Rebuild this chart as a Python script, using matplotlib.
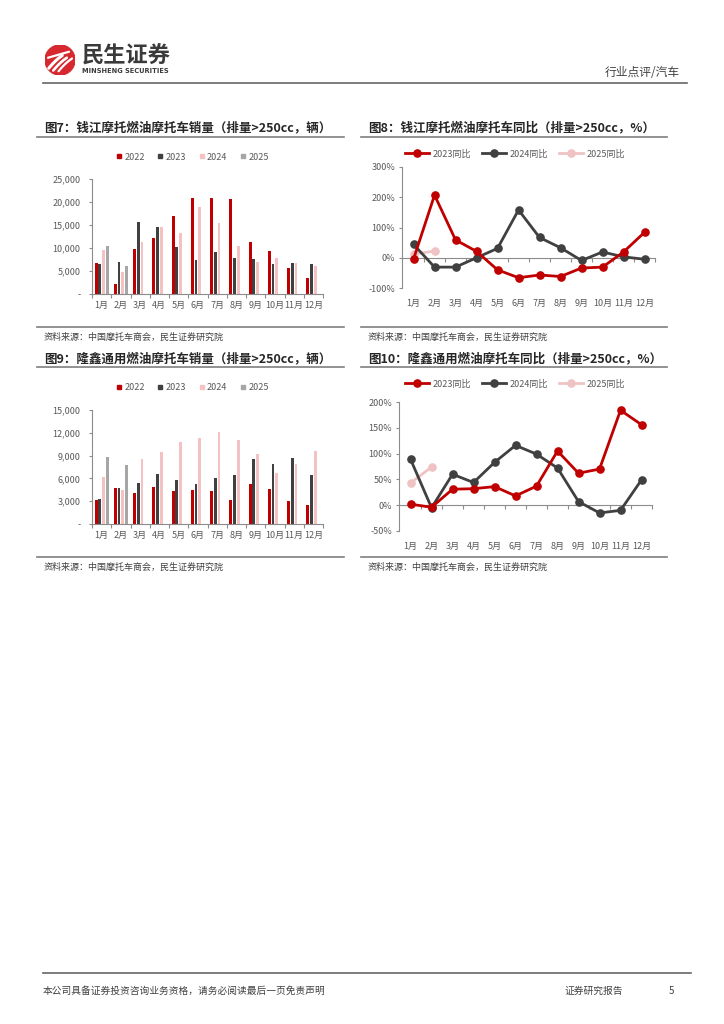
import matplotlib
matplotlib.use("Agg")
import matplotlib.pyplot as plt
from matplotlib.lines import Line2D
from matplotlib.patches import Circle
from matplotlib.ticker import FuncFormatter, FixedLocator

plt.rcParams['font.family'] = ['Noto Sans CJK SC', 'DejaVu Sans']
plt.rcParams['axes.unicode_minus'] = False

W, H = 724, 1024

months = ['1月', '2月', '3月', '4月', '5月', '6月', '7月', '8月', '9月', '10月', '11月', '12月']

# 图7 钱江摩托 销量 (辆)
qj_2022 = [6700, 2250, 9800, 12100, 17000, 20900, 20900, 20650, 11300, 9350, 5600, 3500]
qj_2023 = [6500, 7000, 15600, 14600, 10200, 7400, 9200, 7900, 7700, 6600, 6650, 6500]
qj_2024 = [9500, 4850, 11200, 14600, 13300, 19000, 15500, 10500, 7000, 7900, 6750, 6150]
qj_2025 = [10500, 6100]

# 图8 钱江摩托 同比 (%)
qj_yoy_2023 = [-4, 207, 59, 21, -40, -66, -57, -62, -34, -31, 19, 84]
qj_yoy_2024 = [44, -31, -31, 0, 31, 158, 67, 33, -9, 19, 3, -5]
qj_yoy_2025 = [12, 22]

# 图9 隆鑫通用 销量 (辆)
lx_2022 = [3150, 4800, 4100, 4900, 4300, 4450, 4400, 3100, 5300, 4600, 3050, 2550]
lx_2023 = [3250, 4700, 5400, 6550, 5850, 5300, 6050, 6400, 8600, 7900, 8650, 6450]
lx_2024 = [6200, 4450, 8600, 9450, 10800, 11350, 12100, 11100, 9250, 6750, 7850, 9650]
lx_2025 = [8800, 7750]

# 图10 隆鑫通用 同比 (%)
lx_yoy_2023 = [2, -4, 31, 32, 36, 18, 37, 105, 62, 70, 184, 156]
lx_yoy_2024 = [89, -5, 60, 44, 83, 116, 99, 72, 7, -15, -10, 49]
lx_yoy_2025 = [43, 74]

RED = '#C00000'
DARK = '#404040'
PINK = '#F4C2C2'
GRAY = '#A6A6A6'
LPINK = '#EFC3C3'
TXT = '#595959'
LINE = '#7F7F7F'

fig = plt.figure(figsize=(W / 100, H / 100), dpi=100)


def rect(x0, y0, x1, y1):
    return [x0 / W, 1 - y1 / H, (x1 - x0) / W, (y1 - y0) / H]


def fx(x):
    return x / W


def fy(y):
    return 1 - y / H


def hline(x0, x1, y, color=LINE, lw=1.2):
    fig.add_artist(Line2D([fx(x0), fx(x1)], [fy(y), fy(y)], color=color, lw=lw))


# header
logo = fig.add_axes(rect(45, 45, 75, 75))
logo.set_xlim(-1, 1)
logo.set_ylim(-1, 1)
logo.set_aspect('equal')
logo.axis('off')
logo.add_patch(Circle((0, 0), 1, color='#D7282F'))
for k, (x0, y0) in enumerate([(-0.75, -0.55), (-0.45, -0.7), (-0.1, -0.75)]):
    xs = [x0 + t * 0.9 for t in [0, 0.25, 0.5, 0.75, 1]]
    ys = [y0 + 1.1 * t - 0.25 * t * t for t in [0, 0.25, 0.5, 0.75, 1]]
    logo.plot(xs, ys, color='white', lw=2.2 - k * 0.3, solid_capstyle='round')
logo.plot([-0.8, 0.6], [0.15, 0.55], color='white', lw=1.6, solid_capstyle='round')

fig.text(fx(82), fy(56), '民生证券', fontsize=16, fontweight='bold', color='#3A3A3A',
         ha='left', va='center')
fig.text(fx(82), fy(71), 'MINSHENG SECURITIES', fontsize=4.8, fontweight='bold',
         color='#3A3A3A', ha='left', va='center', family='DejaVu Sans')
fig.text(fx(680), fy(72), '行业点评/汽车', fontsize=8.5, color=DARK, ha='right', va='center')
hline(43, 687, 83, color='#666666', lw=1.2)

# footer
hline(43, 691, 973, color='#666666', lw=1.2)
fig.text(fx(43), fy(991), '本公司具备证券投资咨询业务资格，请务必阅读最后一页免责声明',
         fontsize=7, color=DARK, ha='left', va='center')
fig.text(fx(594), fy(991), '证券研究报告', fontsize=7, color=DARK, ha='center', va='center')
fig.text(fx(671), fy(991), '5', fontsize=7, color=DARK, ha='center', va='center')


def frame(x0, x1, ytitle, yline, ysrc, title):
    fig.text(fx(x0 + 7), fy(ytitle), title, fontsize=9, fontweight='bold', color='#262626',
             ha='left', va='center')
    hline(x0, x1, yline)
    hline(x0, x1, ysrc)
    fig.text(fx(x0 + 7), fy(ysrc + 10), '资料来源：中国摩托车商会，民生证券研究院',
             fontsize=6.5, color=DARK, ha='left', va='center')


def style_axes(ax):
    for s in ['top', 'right']:
        ax.spines[s].set_visible(False)
    for s in ['left', 'bottom']:
        ax.spines[s].set_color('#8C8C8C')
        ax.spines[s].set_linewidth(0.8)
    ax.tick_params(colors='#8C8C8C', labelcolor=TXT, labelsize=6.5, width=0.8)


def bar_chart(pos, ymax, step, series, legend_xy):
    ax = fig.add_axes(rect(*pos))
    style_axes(ax)
    colors = [RED, DARK, PINK, GRAY]
    bw = 0.15
    offs = [-1.5, -0.5, 0.5, 1.5]
    for vals, c, o in zip(series, colors, offs):
        xs = [i + o * 0.19 for i in range(len(vals))]
        ax.bar(xs, vals, width=bw, color=c, linewidth=0)
    ax.set_xlim(-0.5, 11.5)
    ax.set_ylim(0, ymax)
    ax.set_yticks(range(0, ymax + 1, step))
    ax.yaxis.set_major_formatter(FuncFormatter(lambda v, p: '-' if v == 0 else f'{int(v):,}'))
    ax.tick_params(axis='y', length=2.4, pad=6)
    ax.set_xticks(range(12))
    ax.set_xticklabels(months)
    ax.xaxis.set_minor_locator(FixedLocator([i - 0.5 for i in range(13)]))
    ax.tick_params(axis='x', which='major', length=0, pad=5)
    ax.tick_params(axis='x', which='minor', length=3, width=0.8, color='#8C8C8C')
    handles = [Line2D([], [], marker='s', ls='none', color=c, markersize=3.5) for c in colors]
    fig.legend(handles, ['2022', '2023', '2024', '2025'], loc='center',
               bbox_to_anchor=(fx(legend_xy[0]), fy(legend_xy[1])), ncol=4, frameon=False,
               fontsize=6.5, labelcolor=TXT, handletextpad=0.2, columnspacing=1.3,
               handlelength=0.8)
    return ax


def line_chart(pos, ylo, yhi, step, series, legend_xy):
    ax = fig.add_axes(rect(*pos))
    style_axes(ax)
    colors = [RED, DARK, LPINK]
    names = ['2023同比', '2024同比', '2025同比']
    order = [2, 1, 0]
    for k in order:
        vals = series[k]
        ax.plot(range(len(vals)), vals, color=colors[k], lw=2.0, marker='o', markersize=5.2,
                zorder=3 + (2 - k))
    ax.set_xlim(-0.55, 11.5)
    ax.set_ylim(ylo, yhi)
    ax.set_yticks(range(ylo, yhi + 1, step))
    ax.yaxis.set_major_formatter(FuncFormatter(lambda v, p: f'{int(v)}%'))
    ax.tick_params(axis='y', length=2.4, pad=2.5)
    ax.spines['bottom'].set_position(('data', 0))
    ax.set_xticks([])
    ax.xaxis.set_minor_locator(FixedLocator([i - 0.5 for i in range(1, 13)]))
    ax.tick_params(axis='x', which='minor', length=3, width=0.8, color='#8C8C8C')
    for i, m in enumerate(months):
        ax.annotate(m, xy=(i, 0), xycoords=('data', 'axes fraction'), xytext=(0, -11),
                    textcoords='offset points', ha='center', va='center', fontsize=6.5,
                    color=TXT)
    handles = [Line2D([], [], color=c, lw=2.0, marker='o', markersize=5.2) for c in colors]
    fig.legend(handles, names, loc='center',
               bbox_to_anchor=(fx(legend_xy[0]), fy(legend_xy[1])), ncol=3, frameon=False,
               fontsize=6.5, labelcolor=TXT, handletextpad=0.4, columnspacing=1.2,
               handlelength=2.7)
    return ax


# 图7
frame(37, 344, 128, 137, 327, '图7：钱江摩托燃油摩托车销量（排量>250cc，辆）')
bar_chart((92, 179, 323, 294), 25000, 5000, [qj_2022, qj_2023, qj_2024, qj_2025], (192, 157))

# 图8
frame(361, 667, 128, 137, 327, '图8：钱江摩托燃油摩托车同比（排量>250cc，%）')
line_chart((402, 167, 655, 288), -100, 300, 100, [qj_yoy_2023, qj_yoy_2024, qj_yoy_2025],
           (515, 154))

# 图9
frame(37, 344, 359, 367, 557, '图9：隆鑫通用燃油摩托车销量（排量>250cc，辆）')
bar_chart((92, 410, 323, 524), 15000, 3000, [lx_2022, lx_2023, lx_2024, lx_2025], (192, 388))

# 图10
frame(361, 667, 359, 367, 557, '图10：隆鑫通用燃油摩托车同比（排量>250cc，%）')
line_chart((399, 402, 652, 531), -50, 200, 50, [lx_yoy_2023, lx_yoy_2024, lx_yoy_2025],
           (515, 384))

fig.savefig('out.png', dpi=100)
